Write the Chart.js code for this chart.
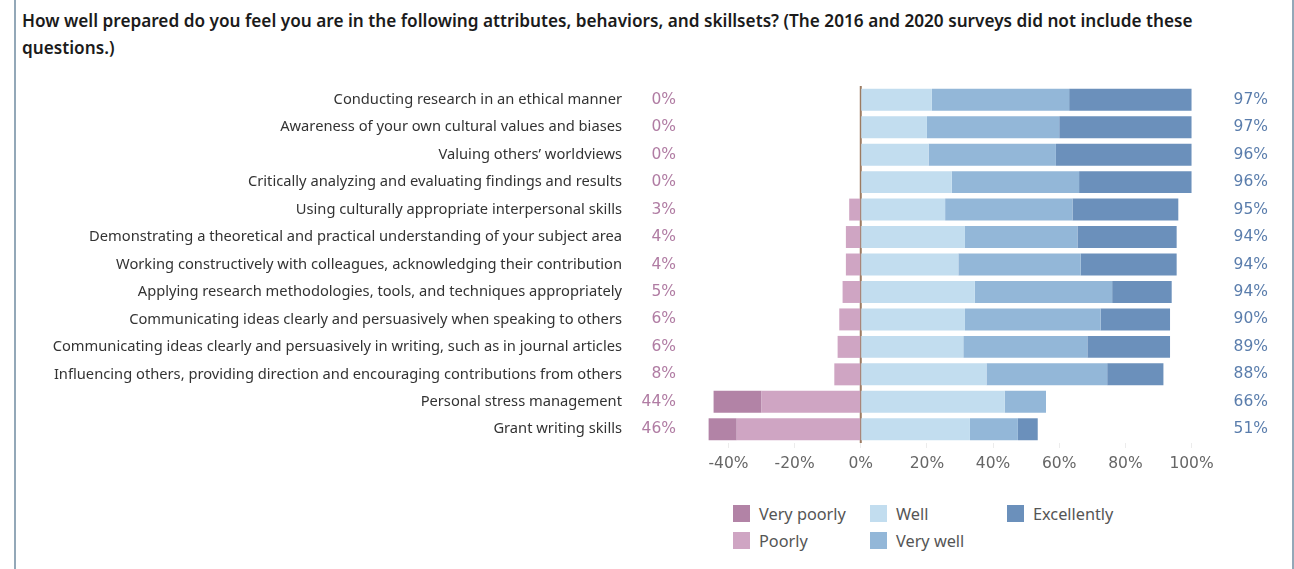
<!DOCTYPE html>
<html>
<head>
<meta charset="utf-8">
<script src="https://cdn.jsdelivr.net/npm/chart.js@4.4.1/dist/chart.umd.min.js"></script>
<style>
  body { margin:0; background:#fff; font-family:"Noto Sans", sans-serif; }
  #frame { position:absolute; left:14px; top:0; width:1276px; height:569px; border-left:2px solid #93a8b8; border-right:2px solid #93a8b8; }
  #title { position:absolute; left:22px; top:7px; font-size:17.2px; font-weight:600; color:#1b1b1b; line-height:27px; }
  #c { position:absolute; left:0; top:0; }
  .lg { position:absolute; font-size:16.3px; color:#555; line-height:20px; }
  .lg span { position:absolute; left:0; top:1px; width:17px; height:17px; }
</style>
</head>
<body>
<div id="frame"></div>
<div id="title">How well prepared do you feel you are in the following attributes, behaviors, and skillsets? (The 2016 and 2020 surveys did not include these<br>questions.)</div>
<canvas id="c" width="1294" height="480"></canvas>
<div id="legend"></div>
<script>
const categories = [
  'Conducting research in an ethical manner',
  'Awareness of your own cultural values and biases',
  'Valuing others\u2019 worldviews',
  'Critically analyzing and evaluating findings and results',
  'Using culturally appropriate interpersonal skills',
  'Demonstrating a theoretical and practical understanding of your subject area',
  'Working constructively with colleagues, acknowledging their contribution',
  'Applying research methodologies, tools, and techniques appropriately',
  'Communicating ideas clearly and persuasively when speaking to others',
  'Communicating ideas clearly and persuasively in writing, such as in journal articles',
  'Influencing others, providing direction and encouraging contributions from others',
  'Personal stress management',
  'Grant writing skills'
];
// bar segments (percent), negatives drawn left of zero
const poorly      = [0, 0, 0, 0, -3.5, -4.5, -4.5, -5.5, -6.5, -7, -8, -30, -37.5];
const veryPoorly  = [0, 0, 0, 0, 0, 0, 0, 0, 0, 0, 0, -14.5, -8.5];
const well        = [21.5, 20, 20.5, 27.5, 25.5, 31.5, 29.5, 34.5, 31.5, 31, 38, 43.5, 33];
const veryWell    = [41.5, 40, 38.5, 38.5, 38.5, 34, 37, 41.5, 41, 37.5, 36.5, 12.5, 14.5];
const excellently = [37, 40, 41, 34, 32, 30, 29, 18, 21, 25, 17, 0, 6];
const negLabels = ['0%','0%','0%','0%','3%','4%','4%','5%','6%','6%','8%','44%','46%'];
const posLabels = ['97%','97%','96%','96%','95%','94%','94%','94%','90%','89%','88%','66%','51%'];

const seriesNames  = ['Very poorly', 'Poorly', 'Well', 'Very well', 'Excellently'];
const seriesColors = ['#b283a6', '#cfa5c3', '#c2ddef', '#93b7d8', '#6b90bb'];

// html legend, column-major like the original
const legendPos = [[733, 504], [733, 531], [870, 504], [870, 531], [1007, 504]];
document.getElementById('legend').innerHTML = seriesNames.map((n, i) =>
  `<div class="lg" style="left:${legendPos[i][0]}px;top:${legendPos[i][1]}px;padding-left:26px"><span style="background:${seriesColors[i]}"></span>${n}</div>`
).join('');

const numFont = '15.5px "DejaVu Sans"';

// zero line + category names + the two percentage columns
const sideLabels = {
  id: 'sideLabels',
  beforeDatasetsDraw(chart) {
    const { ctx, chartArea, scales: { x } } = chart;
    const x0 = x.getPixelForValue(0);
    ctx.save();
    ctx.strokeStyle = '#9c7b62';
    ctx.lineWidth = 2;
    ctx.beginPath();
    ctx.moveTo(x0, chartArea.top);
    ctx.lineTo(x0, chartArea.bottom);
    ctx.stroke();
    ctx.restore();
  },
  afterDraw(chart) {
    const { ctx, scales: { y } } = chart;
    ctx.save();
    ctx.textAlign = 'right';
    ctx.textBaseline = 'middle';
    categories.forEach((c, i) => {
      const yy = y.getPixelForValue(i);
      ctx.font = '14.7px "Noto Sans"';
      ctx.fillStyle = '#333';
      ctx.fillText(c, 622, yy);
      ctx.font = numFont;
      ctx.fillStyle = '#b07ca3';
      ctx.fillText(negLabels[i], 676, yy);
      ctx.fillStyle = '#5a7dac';
      ctx.fillText(posLabels[i], 1268, yy);
    });
    ctx.restore();
  }
};

const mk = (label, data, color) => ({ label, data, backgroundColor: color, borderWidth: 0, categoryPercentage: 1, barPercentage: 0.8 });

new Chart(document.getElementById('c'), {
  type: 'bar',
  data: {
    labels: categories,
    datasets: [
      mk('Poorly', poorly, seriesColors[1]),
      mk('Very poorly', veryPoorly, seriesColors[0]),
      mk('Well', well, seriesColors[2]),
      mk('Very well', veryWell, seriesColors[3]),
      mk('Excellently', excellently, seriesColors[4])
    ]
  },
  options: {
    indexAxis: 'y',
    responsive: false,
    animation: false,
    layout: { padding: { top: 86, right: 76, left: 0, bottom: 0 } },
    plugins: { legend: { display: false }, tooltip: { enabled: false } },
    scales: {
      x: {
        stacked: true,
        min: -48, max: 108,
        grid: { drawOnChartArea: false, drawTicks: true, tickLength: 5, color: '#ececec' },
        border: { display: false },
        ticks: { stepSize: 20, includeBounds: false, padding: 7, color: '#666', font: { family: 'DejaVu Sans', size: 15.5 }, callback: v => v + '%' },
        afterFit(s) { s.height = 37; }
      },
      y: {
        stacked: true,
        grid: { display: false, drawTicks: false },
        border: { display: false },
        ticks: { display: false },
        afterFit(s) { s.width = 702; }
      }
    }
  },
  plugins: [sideLabels]
});
</script>
</body>
</html>
